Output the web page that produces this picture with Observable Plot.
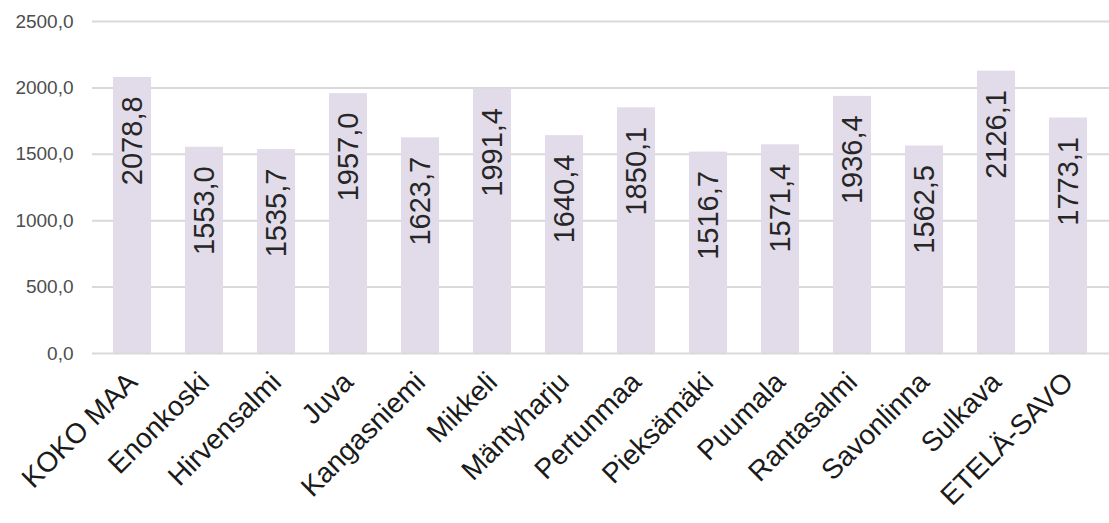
<!DOCTYPE html>
<html><head><meta charset="utf-8">
<script src="https://cdn.jsdelivr.net/npm/d3@7"></script>
<script src="https://cdn.jsdelivr.net/npm/@observablehq/plot@0.6"></script>
<style>body{margin:0;background:#fff;}</style>
</head><body><div id="chart"></div>
<script>
const categories = ["KOKO MAA","Enonkoski","Hirvensalmi","Juva","Kangasniemi","Mikkeli","Mäntyharju","Pertunmaa","Pieksämäki","Puumala","Rantasalmi","Savonlinna","Sulkava","ETELÄ-SAVO"];
const values = [2078.8,1553.0,1535.7,1957.0,1623.7,1991.4,1640.4,1850.1,1516.7,1571.4,1936.4,1562.5,2126.1,1773.1];
const yTicks = [0,500,1000,1500,2000,2500];
const fmt = d => d.toFixed(1).replace(".", ",");
const data = categories.map((c,i)=>({name:c, value:values[i]}));
const chart = Plot.plot({
  width:1109, height:523, marginLeft:92, marginRight:0, marginTop:21, marginBottom:170,
  style:{fontFamily:"'Liberation Sans', Arial, sans-serif", background:"#fff"},
  x:{domain:categories, paddingInner:0.47, paddingOuter:0.235},
  y:{domain:[0,2500]},
  marks:[
    Plot.ruleY(yTicks.filter(d=>d>0), {stroke:"#d9d9d9", strokeWidth:2}),
    Plot.barY(data,{x:"name", y:"value", fill:"#e2dcea"}),
    Plot.ruleY([0], {stroke:"#d9d9d9", strokeWidth:2}),
    Plot.text(data,{x:"name", y:"value", text:d=>fmt(d.value), rotate:-90, textAnchor:"end", lineAnchor:"middle", dy:19, fontSize:29, fill:"#262626"}),
    Plot.axisY({ticks:yTicks, tickFormat:fmt, tickSize:0, tickPadding:19, fontSize:19, color:"#4d4d4d", label:null}),
    Plot.axisX({tickSize:0, tickRotate:-45, tickPadding:24, fontSize:28, color:"#1a1a1a", label:null})
  ]
});
document.getElementById("chart").appendChild(chart);
</script>
</body></html>
